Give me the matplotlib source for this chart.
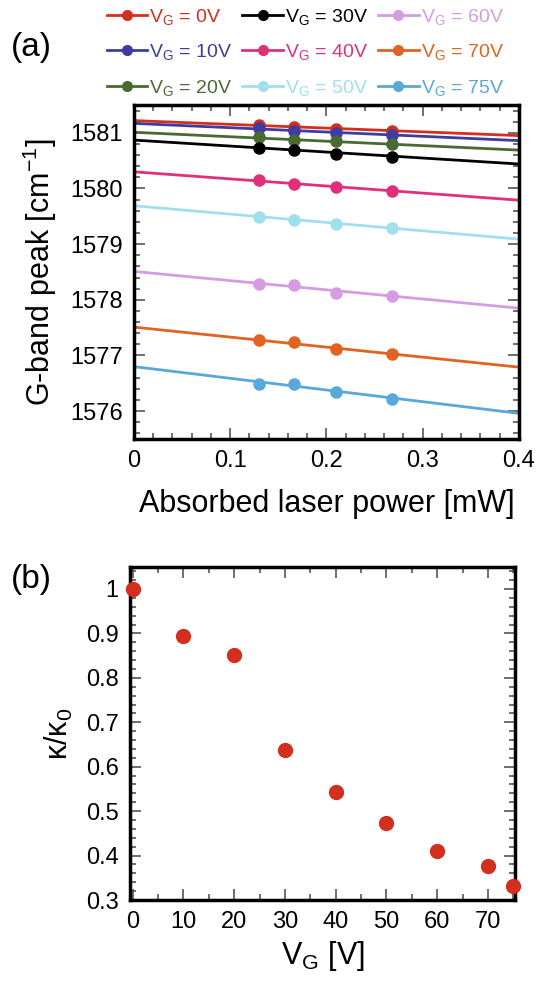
import numpy as np
import matplotlib
matplotlib.use("Agg")
import matplotlib.pyplot as plt
from matplotlib.ticker import MultipleLocator

plt.rcParams['font.family'] = ['Liberation Sans', 'DejaVu Sans']
plt.rcParams['mathtext.fontset'] = 'custom'
plt.rcParams['mathtext.rm'] = 'Liberation Sans'
plt.rcParams['mathtext.it'] = 'Liberation Sans:italic'

# panel (a): G-band peak vs absorbed power
power = [0.13, 0.166, 0.21, 0.268]
vg_labels = ['0V', '10V', '20V', '30V', '40V', '50V', '60V', '70V', '75V']
colors = ['#d22f1f', '#3c3ca3', '#496a33', '#000000', '#e0307c',
          '#a0e0ee', '#d59ce2', '#e2621f', '#58a8d9']
peaks = [
    [1581.14, 1581.11, 1581.07, 1581.04],
    [1581.08, 1581.04, 1581.00, 1580.96],
    [1580.92, 1580.87, 1580.86, 1580.80],
    [1580.72, 1580.69, 1580.62, 1580.57],
    [1580.15, 1580.08, 1580.03, 1579.96],
    [1579.48, 1579.43, 1579.36, 1579.29],
    [1578.28, 1578.26, 1578.13, 1578.07],
    [1577.28, 1577.24, 1577.11, 1577.03],
    [1576.49, 1576.49, 1576.35, 1576.22],
]
# linear fits (value at P=0, slope per mW)
fit_icpt = [1581.22, 1581.17, 1581.01, 1580.87, 1580.30, 1579.69, 1578.51, 1577.51, 1576.80]
fit_slope = [-0.675, -0.775, -0.8, -1.075, -1.275, -1.5, -1.65, -1.8, -2.1]

# panel (b): kappa ratio vs gate voltage
vg = [0, 10, 20, 30, 40, 50, 60, 70, 75]
kappa = [1.0, 0.895, 0.852, 0.637, 0.543, 0.473, 0.411, 0.377, 0.332]

fig = plt.figure(figsize=(5.4, 9.86), dpi=100)
ax1 = fig.add_axes([0.248, 0.5548, 0.713, 0.3387])
ax2 = fig.add_axes([0.2407, 0.0872, 0.713, 0.338])

xfit = np.array([0.0, 0.4])
handles = []
for i in range(len(vg_labels)):
    ax1.plot(xfit, fit_icpt[i] + fit_slope[i] * xfit, color=colors[i], lw=2, zorder=2)
    ax1.plot(power, peaks[i], 'o', color=colors[i], ms=8, zorder=3)
    h, = ax1.plot([], [], '-o', color=colors[i], lw=2, ms=7,
                  label=r'$\mathregular{V_G}$ = ' + vg_labels[i])
    handles.append(h)

ax1.set_xlim(0, 0.4)
ax1.set_ylim(1575.5, 1581.5)
ax1.xaxis.set_major_locator(MultipleLocator(0.1))
ax1.xaxis.set_minor_locator(MultipleLocator(0.02))
ax1.yaxis.set_major_locator(MultipleLocator(1))
ax1.yaxis.set_minor_locator(MultipleLocator(0.2))
ax1.set_xticks([0, 0.1, 0.2, 0.3, 0.4])
ax1.set_xticklabels(['0', '0.1', '0.2', '0.3', '0.4'])
ax1.set_xlabel('Absorbed laser power [mW]', fontsize=22, labelpad=12)
ax1.set_ylabel(r'G-band peak [cm$^{\mathregular{-1}}$]', fontsize=22, labelpad=8)

leg = fig.legend(handles=handles, loc='center', bbox_to_anchor=(0.565, 0.947),
                 ncol=3, frameon=False, fontsize=14, handlelength=2.1,
                 handletextpad=0.1, columnspacing=0.5, labelspacing=0.8)
for t, c in zip(leg.get_texts(), colors):
    t.set_color(c)

ax2.plot(vg, kappa, 'o', color='#d22f1f', ms=10, clip_on=False, zorder=3)
ax2.set_xlim(-0.5, 75.3)
ax2.set_ylim(0.3, 1.05)
ax2.xaxis.set_major_locator(MultipleLocator(10))
ax2.xaxis.set_minor_locator(MultipleLocator(5))
ax2.yaxis.set_major_locator(MultipleLocator(0.1))
ax2.yaxis.set_minor_locator(MultipleLocator(0.02))
ax2.set_yticks([0.3, 0.4, 0.5, 0.6, 0.7, 0.8, 0.9, 1.0])
ax2.set_yticklabels(['0.3', '0.4', '0.5', '0.6', '0.7', '0.8', '0.9', '1'])
ax2.set_xlabel(r'$\mathregular{V_G}$ [V]', fontsize=22, labelpad=4)
ax2.set_ylabel(r'$\mathregular{κ/κ_0}$', fontsize=22, labelpad=8)

for ax in (ax1, ax2):
    for s in ax.spines.values():
        s.set_linewidth(2.5)
    ax.tick_params(which='both', direction='in', top=True, right=True,
                   labelsize=17, color='#555555', width=1.2)
    ax.tick_params(which='major', length=8, pad=8)
    ax.tick_params(which='minor', length=4.5)

fig.text(0.02, 0.952, '(a)', fontsize=24, va='center')
fig.text(0.02, 0.412, '(b)', fontsize=24, va='center')

fig.savefig('out.png', dpi=100)
